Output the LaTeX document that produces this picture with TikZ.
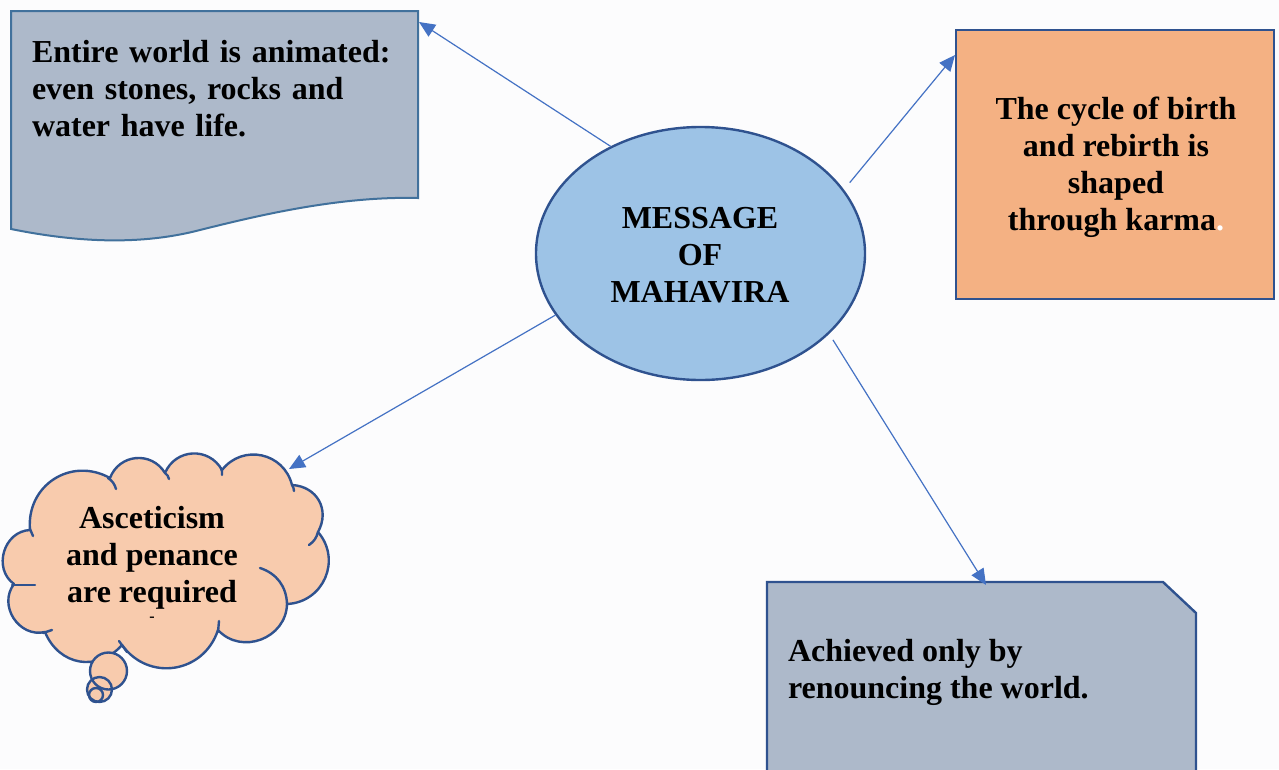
\documentclass[tikz,border=0pt]{standalone}
\usepackage{fontspec}
\setmainfont{Liberation Serif}
\usetikzlibrary{shapes.geometric,arrows.meta}
\definecolor{bgc}{HTML}{FCFCFD}
\definecolor{edgec}{HTML}{2F528F}
\definecolor{edgelt}{HTML}{41719C}
\definecolor{slatec}{HTML}{ADB9CA}
\definecolor{orangec}{HTML}{F4B183}
\definecolor{peachc}{HTML}{F8CBAD}
\definecolor{bluec}{HTML}{9DC3E6}
\definecolor{arrowc}{HTML}{4472C4}
\begin{document}
\begin{tikzpicture}[x=1pt,y=-1pt,
  txt/.style={font=\fontsize{32}{37}\selectfont\bfseries, inner sep=0pt, outer sep=0pt},
  shapeline/.style={draw=edgec, line width=2.4pt},
  conn/.style={draw=arrowc, line width=1.2pt, -{Triangle[length=16pt,width=14pt]}},
  curl/.style={draw=edgec, line width=2.4pt, line cap=round},
  puff/.style={bend left=#1, looseness=1.2}]
\useasboundingbox (0,0) rectangle (1279,769);
\fill[bgc] (0,0) rectangle (1279,769);
\begin{scope}
\clip (0,0) rectangle (1279,769);

% wave-bottomed note, top left
\path[fill=slatec, draw=edgelt, line width=2pt, line join=miter]
  (11,11) -- (418,11) -- (418,198)
  .. controls (340,196) and (260,215) .. (200,230)
  .. controls (150,243) and (90,245) .. (11,229) -- cycle;
\coordinate (wtip) at (419,22);
\node[txt, anchor=base west, align=left, text width=364pt] (wtext) at (32,62)
  {\makebox[364pt][s]{Entire world is animated:}\\
   \makebox[364pt][s]{even stones, rocks and}\\
   water have life.};

% central ellipse
\node[ellipse, fill=bluec, shapeline, minimum width=329pt, minimum height=253pt, inner sep=0pt]
  (ell) at (700.5,253.5) {};
\node[txt, anchor=base, align=center] (etext) at (700,302)
  {MESSAGE\\OF\\MAHAVIRA};

% orange box, right
\node[rectangle, fill=orangec, shapeline, minimum width=318pt, minimum height=269pt, inner sep=0pt]
  (rbox) at (1115,164.5) {};
\coordinate (rtip) at (955,55);
\node[txt, anchor=base, align=center] (rtext) at (1116,230)
  {The cycle of birth\\and rebirth is\\shaped\\through karma\textcolor{white}{.}};

% cut-corner box, bottom right
\path[fill=slatec, shapeline, line join=miter]
  (767,800) -- (767,582) -- (1163,582) -- (1196,613) -- (1196,800) -- cycle;
\coordinate (btip) at (986,585);
\node[txt, anchor=base west, align=left] (btext) at (788,698)
  {Achieved only by\\renouncing the world.};

% thought cloud, bottom left
\path[fill=peachc, shapeline, line join=round]
  (30,530) to[puff=62] (110,478)
  to[puff=64] (165,473)
  to[puff=64] (222,470)
  to[puff=64] (292,485)
  to[puff=58] (318,532)
  to[puff=64] (287,604)
  to[puff=68] (218,630)
  to[puff=63] (122,645)
  to[puff=58] (45,632)
  to[puff=70] (14,584)
  to[puff=71] (30,530) -- cycle;
\draw[curl] (30,529) -- (33,536);
\draw[curl] (108,478) to[bend left=20] (116,489);
\draw[curl] (165,473) to[bend left=20] (169,479);
\draw[curl] (221,468) to[bend left=15] (222,475);
\draw[curl] (292,485) to[bend left=15] (294,491);
\draw[curl] (318,532) to[bend left=20] (309,545);
\draw[curl] (260,568) to[bend left=35] (287,604);
\draw[curl] (219,621) -- (218,632);
\draw[curl] (119,641) -- (127,652);
\draw[curl] (43,633) -- (52,630);
\draw[curl] (12,585) -- (35,585);
% trailing bubbles
\fill[peachc] (108.5,671) circle (18.5);
\fill[peachc] (99.5,689.5) circle (12.5);
\fill[peachc] (96,695) circle (7);
\draw[shapeline] (108.5,671) circle (18.5);
\draw[shapeline] (99.5,689.5) circle (12.5);
\draw[shapeline] (96,695) circle (7);
\coordinate (ctip) at (289,469);
\node[txt, anchor=base, align=center] (ctext) at (152,602)
  {Asceticism\\and penance\\are required};
\node[font=\fontsize{16}{16}\selectfont\bfseries, inner sep=0pt] (cmark) at (152,619) {-};

% connectors
\draw[conn] (ell.130) -- (wtip);
\draw[conn, shorten <=9pt] (ell.24) -- (rtip);
\draw[conn] (ell.203) -- (ctip);
\draw[conn, shorten <=7pt] (ell.328) -- (btip);
\end{scope}
\end{tikzpicture}
\end{document}
